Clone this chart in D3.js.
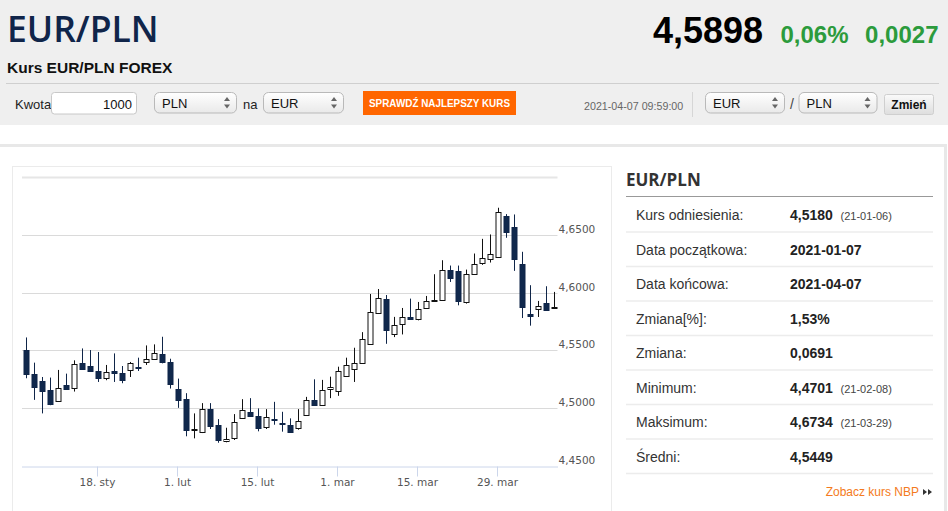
<!DOCTYPE html>
<html>
<head>
<meta charset="utf-8">
<script src="https://cdn.jsdelivr.net/npm/d3@7"></script>
<style>
  html, body { margin: 0; padding: 0; background: #fff; overflow: hidden; }
  svg { display: block; }
  text { font-family: "Liberation Sans", Arial, sans-serif; }
</style>
</head>
<body>
<svg id="page" width="948" height="511"></svg>
<script>
// trading days shown on the chart (2021)
let days = [
  "01-05","01-06","01-07","01-08","01-11","01-12","01-13","01-14","01-15","01-18","01-19","01-20","01-21","01-22",
  "01-25","01-26","01-27","01-28","01-29",
  "02-01","02-02","02-03","02-04","02-05","02-08","02-09","02-10","02-11","02-12","02-15","02-16","02-17","02-18","02-19",
  "02-22","02-23","02-24","02-25","02-26",
  "03-01","03-02","03-03","03-04","03-05","03-08","03-09","03-10","03-11","03-12","03-15","03-16","03-17","03-18","03-19",
  "03-22","03-23","03-24","03-25","03-26","03-29","03-30","03-31",
  "04-01","04-02","04-05","04-06","04-07"
];
let opens = [
  4.5503,4.5299,4.5233,4.5156,4.5064,4.5199,4.5173,4.5388,4.5365,4.5322,4.5259,4.5325,4.5305,4.5328,4.5354,4.5394,
  4.5423,4.5466,4.5400,4.5164,4.5078,4.4815,4.4791,4.4992,4.4857,4.4714,4.4739,4.4912,4.4969,4.4929,4.4831,4.4903,
  4.4871,4.4854,4.4826,4.4943,4.5075,4.5026,4.5164,4.5144,4.5279,4.5336,4.5388,4.5555,4.5824,4.5948,4.5646,4.5730,
  4.5792,4.5766,4.5864,4.5925,4.5939,4.6199,4.6188,4.5913,4.6165,4.6251,4.6298,4.6309,4.6665,4.6564,4.6251,4.5818,
  4.5853,4.5910,4.5872
];
let highs = [
  4.5612,4.5394,4.5270,4.5265,4.5331,4.5299,4.5414,4.5517,4.5503,4.5486,4.5374,4.5474,4.5365,4.5400,4.5437,4.5543,
  4.5552,4.5618,4.5428,4.5256,4.5130,4.4955,4.5044,4.5044,4.4906,4.4831,4.4949,4.5078,4.5087,4.4998,4.4992,4.5055,
  4.4969,4.4912,4.4992,4.5098,4.5250,4.5245,4.5273,4.5359,4.5437,4.5523,4.5658,4.5988,4.6031,4.5979,4.5790,4.5867,
  4.5948,4.5919,4.5971,4.6159,4.6280,4.6234,4.6234,4.6199,4.6338,4.6465,4.6503,4.6734,4.6679,4.6676,4.6353,4.6064,
  4.5928,4.6055,4.6006
];
let lows = [
  4.5259,4.5072,4.4955,4.5026,4.5062,4.5162,4.5144,4.5334,4.5322,4.5227,4.5242,4.5227,4.5216,4.5270,4.5322,4.5374,
  4.5420,4.5388,4.5170,4.5003,4.4757,4.4739,4.4785,4.4820,4.4701,4.4705,4.4725,4.4910,4.4929,4.4800,4.4820,4.4857,
  4.4797,4.4791,4.4814,4.4943,4.5035,4.5026,4.5087,4.5107,4.5279,4.5227,4.5388,4.5555,4.5824,4.5557,4.5615,4.5638,
  4.5766,4.5760,4.5858,4.5924,4.5939,4.6092,4.5890,4.5905,4.6156,4.6240,4.6260,4.6309,4.6474,4.6188,4.5780,4.5714,
  4.5789,4.5841,4.5868
];
let closes = [
  4.5299,4.5187,4.5144,4.5032,4.5179,4.5164,4.5379,4.5334,4.5322,4.5262,4.5313,4.5305,4.5245,4.5388,4.5345,4.5423,
  4.5474,4.5394,4.5213,4.5070,4.4808,4.4818,4.4992,4.4843,4.4728,4.4734,4.4877,4.4983,4.4935,4.4828,4.4920,4.4900,
  4.4866,4.4791,4.4886,4.5072,4.5035,4.5158,4.5181,4.5319,4.5377,4.5391,4.5595,4.5833,4.5951,4.5681,4.5721,4.5790,
  4.5772,4.5855,4.5928,4.5934,4.6199,4.6130,4.5928,4.6159,4.6251,4.6295,4.6338,4.6696,4.6523,4.6286,4.5876,4.5798,
  4.5881,4.5853,4.5878
];
let xTickDays = ["01-18","02-01","02-15","03-01","03-15","03-29"];
let xTickLabels = ["18. sty","1. lut","15. lut","1. mar","15. mar","29. mar"];
let yTicks = [4.45, 4.50, 4.55, 4.60, 4.65];
let yGrid = [4.50, 4.55, 4.60, 4.65, 4.70];

let statLabels = ["Kurs odniesienia:","Data początkowa:","Data końcowa:","Zmiana[%]:","Zmiana:","Minimum:","Maksimum:","Średni:"];
let statValues = ["4,5180","2021-01-07","2021-04-07","1,53%","0,0691","4,4701","4,6734","4,5449"];
let statNotes = ["(21-01-06)","","","","","(21-02-08)","(21-03-29)",""];

const pl = d3.formatLocale({ decimal: ",", thousands: " ", grouping: [3], currency: ["", " zł"] });
const fmt4 = pl.format(".4f");

const svg = d3.select("#page");
const defs = svg.append("defs");
let grad = defs.append("linearGradient").attr("id", "selGrad").attr("x1", 0).attr("y1", 0).attr("x2", 0).attr("y2", 1);
grad.append("stop").attr("offset", "0%").attr("stop-color", "#ffffff");
grad.append("stop").attr("offset", "100%").attr("stop-color", "#e9e9e9");
let grad2 = defs.append("linearGradient").attr("id", "btnGrad").attr("x1", 0).attr("y1", 0).attr("x2", 0).attr("y2", 1);
grad2.append("stop").attr("offset", "0%").attr("stop-color", "#fafafa");
grad2.append("stop").attr("offset", "100%").attr("stop-color", "#dedede");

// ---- header ----
svg.append("rect").attr("x", 0).attr("y", 0).attr("width", 948).attr("height", 125).attr("fill", "#efefef");
svg.append("text").attr("x", 7).attr("y", 42).text("EUR/PLN")
  .style("font-family", "'Open Sans', sans-serif").style("font-weight", 600).style("font-size", "35.5px").attr("fill", "#10254a");
svg.append("text").attr("x", 7).attr("y", 72.5).text("Kurs EUR/PLN FOREX")
  .style("font-weight", "bold").style("font-size", "15.5px").attr("fill", "#111");

svg.append("text").attr("x", 763).attr("y", 43).attr("text-anchor", "end").text("4,5898")
  .style("font-weight", "bold").style("font-size", "36px").attr("fill", "#000");
svg.append("text").attr("x", 848.5).attr("y", 43).attr("text-anchor", "end").text("0,06%")
  .style("font-weight", "bold").style("font-size", "24px").attr("fill", "#2c9b3c");
svg.append("text").attr("x", 938.5).attr("y", 43).attr("text-anchor", "end").text("0,0027")
  .style("font-weight", "bold").style("font-size", "24px").attr("fill", "#2c9b3c");

svg.append("line").attr("x1", 6).attr("x2", 939).attr("y1", 83.5).attr("y2", 83.5).attr("stroke", "#cfcfcf");

// toolbar
svg.append("text").attr("x", 15).attr("y", 108.5).text("Kwota").style("font-size", "13px").attr("fill", "#222");
svg.append("rect").attr("x", 51.5).attr("y", 92.5).attr("width", 85).attr("height", 21.5).attr("rx", 3)
  .attr("fill", "#fff").attr("stroke", "#c8c8c8");
svg.append("text").attr("x", 132).attr("y", 108.5).attr("text-anchor", "end").text("1000").style("font-size", "13px").attr("fill", "#111");

function selectBox(x, w, label) {
  let g = svg.append("g");
  g.append("rect").attr("x", x + 0.5).attr("y", 92.5).attr("width", w).attr("height", 20.5).attr("rx", 5)
    .attr("fill", "url(#selGrad)").attr("stroke", "#b9b9b9");
  g.append("text").attr("x", x + 8).attr("y", 107.5).text(label).style("font-size", "13px").attr("fill", "#111");
  let ax = x + w - 9;
  g.append("path").attr("d", `M${ax - 3},101 L${ax + 3},101 L${ax},97 Z M${ax - 3},104.5 L${ax + 3},104.5 L${ax},108.5 Z`)
    .attr("fill", "#666");
}
selectBox(154, 82, "PLN");
svg.append("text").attr("x", 243).attr("y", 108.5).text("na").style("font-size", "13px").attr("fill", "#222");
selectBox(263, 80, "EUR");

svg.append("rect").attr("x", 363).attr("y", 91).attr("width", 153).attr("height", 24).attr("fill", "#ff6600");
svg.append("text").attr("x", 369).attr("y", 107).text("SPRAWDŹ NAJLEPSZY KURS")
  .attr("textLength", 141).attr("lengthAdjust", "spacingAndGlyphs")
  .style("font-weight", "bold").style("font-size", "11.5px").attr("fill", "#fff");

svg.append("text").attr("x", 584).attr("y", 109.5).text("2021-04-07 09:59:00").style("font-size", "10.7px").attr("fill", "#666");
svg.append("line").attr("x1", 692.5).attr("x2", 692.5).attr("y1", 92).attr("y2", 117).attr("stroke", "#d6d6d6");
selectBox(705, 79, "EUR");
svg.append("text").attr("x", 790).attr("y", 109).text("/").style("font-size", "14px").attr("fill", "#444");
selectBox(798.5, 78, "PLN");
svg.append("rect").attr("x", 884.5).attr("y", 94.5).attr("width", 49).attr("height", 20).attr("rx", 2)
  .attr("fill", "url(#btnGrad)").attr("stroke", "#cfcfcf");
svg.append("text").attr("x", 909).attr("y", 109).attr("text-anchor", "middle").text("Zmień")
  .style("font-weight", "bold").style("font-size", "12px").attr("fill", "#111");

// ---- outer container ----
svg.append("rect").attr("x", -3).attr("y", 145.5).attr("width", 948.5).attr("height", 400)
  .attr("fill", "#fff").attr("stroke", "#e8e8e8").attr("stroke-width", 3);
svg.append("rect").attr("x", 12.5).attr("y", 166.5).attr("width", 599).attr("height", 400)
  .attr("fill", "#fff").attr("stroke", "#ebebeb");

// ---- candlestick chart ----
let margin = { left: 21.5, right: 557.5, top: 177, bottom: 466 };
let x = d3.scaleBand().domain(days).range([margin.left, margin.right]);
let y = d3.scaleLinear().domain([4.45, 4.70]).range([margin.bottom, margin.top]);
let cx = d => Math.round(x(d) + x.bandwidth() / 2) + 0.5;

let chart = svg.append("g");
chart.selectAll(".grid").data(yGrid).join("line")
  .attr("x1", margin.left + 0.5).attr("x2", margin.right)
  .attr("y1", d => Math.round(y(d)) + 0.5).attr("y2", d => Math.round(y(d)) + 0.5)
  .attr("stroke", d => d === 4.70 ? "#e6e6e6" : "#dadada")
  .attr("stroke-width", d => d === 4.70 ? 2 : 1);

let xAxis = chart.append("g").attr("transform", `translate(0,${margin.bottom + 0.5})`)
  .call(d3.axisBottom(x).tickValues(xTickDays).tickSize(10).tickSizeOuter(0).tickPadding(2)
    .tickFormat(d => xTickLabels[xTickDays.indexOf(d)]));
xAxis.select(".domain").attr("stroke", "#ccd6eb");
xAxis.selectAll(".tick line").attr("stroke", "#ccd6eb");
xAxis.selectAll(".tick text").attr("fill", "#555")
  .style("font-family", "'DejaVu Sans', Verdana, sans-serif").style("font-size", "10.5px");

let yAxis = chart.append("g").attr("transform", `translate(${margin.right},0)`)
  .call(d3.axisRight(y).tickValues(yTicks).tickSize(0).tickPadding(1).tickFormat(fmt4));
yAxis.select(".domain").remove();
yAxis.selectAll(".tick text").attr("fill", "#555").attr("dy", -2.5)
  .style("font-family", "'DejaVu Sans', Verdana, sans-serif").style("font-size", "10.5px");

let candles = days.map((d, i) => ({ day: d, o: opens[i], h: highs[i], l: lows[i], c: closes[i] }));
let bodyW = 5;
let cg = chart.selectAll(".candle").data(candles).join("g").attr("class", "candle");
cg.append("line")
  .attr("x1", d => cx(d.day)).attr("x2", d => cx(d.day))
  .attr("y1", d => y(d.h)).attr("y2", d => y(d.l))
  .attr("stroke", d => d.c < d.o ? "#0f2548" : "#111");
cg.append("rect")
  .attr("x", d => cx(d.day) - bodyW / 2)
  .attr("width", bodyW)
  .attr("y", d => Math.round(y(Math.max(d.o, d.c))) + 0.5)
  .attr("height", d => Math.max(1, Math.round(Math.abs(y(d.o) - y(d.c)))))
  .attr("fill", d => d.c < d.o ? "#10284c" : "#fff")
  .attr("stroke", d => d.c < d.o ? "#0f2548" : "#111");

// ---- stats panel ----
let panelX = 626, panelR = 933;
svg.append("text").attr("x", panelX).attr("y", 185.5).text("EUR/PLN")
  .style("font-family", "'Open Sans', sans-serif").style("font-weight", 700).style("font-size", "17px").attr("fill", "#333");
svg.append("line").attr("x1", panelX).attr("x2", panelR).attr("y1", 196.5).attr("y2", 196.5).attr("stroke", "#999");

let rowH = 34.5;
let rows = svg.selectAll(".stat").data(statLabels).join("g").attr("class", "stat")
  .attr("transform", (d, i) => `translate(0,${220 + i * rowH})`);
rows.append("text").attr("x", 636).attr("y", 0).text(d => d).style("font-size", "14px").attr("fill", "#333");
rows.append("text").attr("x", 790).attr("y", 0).text((d, i) => statValues[i])
  .style("font-weight", "bold").style("font-size", "14px").attr("fill", "#222");
rows.append("text").attr("x", 840.5).attr("y", 0).text((d, i) => statNotes[i]).style("font-size", "11px").attr("fill", "#444");
rows.append("line").attr("x1", panelX).attr("x2", panelR).attr("y1", 12).attr("y2", 12).attr("stroke", "#ececec").attr("stroke-width", 1.5);

svg.append("text").attr("x", 919).attr("y", 496).attr("text-anchor", "end").text("Zobacz kurs NBP")
  .style("font-size", "12px").attr("fill", "#f47a20");
svg.append("path").attr("d", "M923,489 L927,492 L923,495 Z M928,489 L932,492 L928,495 Z").attr("fill", "#333");
</script>
</body>
</html>
